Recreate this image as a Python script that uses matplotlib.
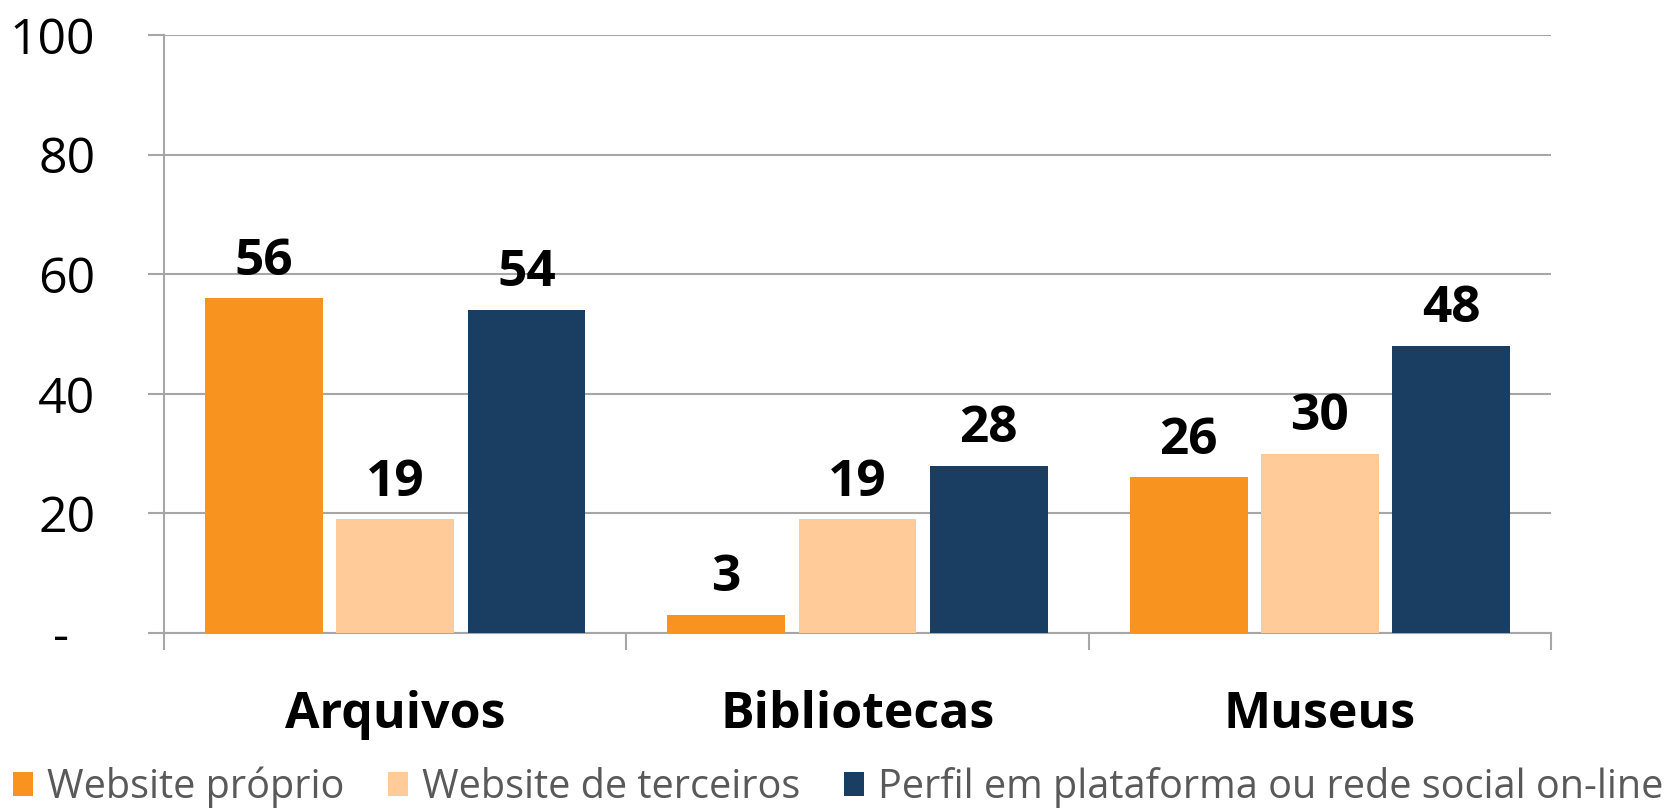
import numpy as np
import matplotlib.pyplot as plt
from matplotlib.patches import Patch

# data
categories = ['Arquivos', 'Bibliotecas', 'Museus']
series_names = ['Website próprio', 'Website de terceiros', 'Perfil em plataforma ou rede social on-line']
website_proprio = [56, 3, 26]
website_terceiros = [19, 19, 30]
perfil_rede = [54, 28, 48]
y_ticks = [0, 20, 40, 60, 80, 100]
y_tick_labels = ['-  ', '20', '40', '60', '80', '100']

colors = ['#F7931E', '#FECB99', '#1A3D62']
grid_color = '#A6A6A6'

plt.rcParams['font.family'] = ['Open Sans', 'DejaVu Sans']

fig = plt.figure(figsize=(16.77, 8.09), dpi=100)
ax = fig.add_axes([0.0978, 0.2176, 0.8271, 0.7391])

x = np.arange(len(categories))
bar_w = 0.255
step = 0.284
all_series = [website_proprio, website_terceiros, perfil_rede]

for i, vals in enumerate(all_series):
    pos = x + (i - 1) * step
    ax.bar(pos, vals, width=bar_w, color=colors[i], zorder=3)
    for px, v in zip(pos, vals):
        ax.annotate(f'{v:.0f}', xy=(px, v), xytext=(0, 17), textcoords='offset points',
                    ha='center', va='baseline', fontsize=37, fontweight='bold', color='black')

ax.set_xlim(-0.5, 2.5)
ax.set_ylim(0, 100)

# y axis
ax.set_yticks(y_ticks)
ax.set_yticklabels(y_tick_labels)
ax.tick_params(axis='y', length=11.5, width=1.5, color=grid_color, pad=38, labelsize=36, labelcolor='black')
ax.yaxis.grid(True, color=grid_color, linewidth=1.5, zorder=0)
ax.set_axisbelow(True)

# x axis: labels at centres, ticks at group boundaries
ax.set_xticks(x)
ax.set_xticklabels(categories, fontsize=36, fontweight='bold')
ax.set_xticks([-0.5, 0.5, 1.5, 2.5], minor=True)
ax.tick_params(axis='x', which='major', length=0, pad=41)
ax.tick_params(axis='x', which='minor', length=12, width=1.5, color=grid_color)

for s in ['top', 'right']:
    ax.spines[s].set_visible(False)
for s in ['left', 'bottom']:
    ax.spines[s].set_color(grid_color)
    ax.spines[s].set_linewidth(1.5)

handles = [Patch(facecolor=c, edgecolor='none') for c in colors]
leg = fig.legend(handles, series_names, loc='center', bbox_to_anchor=(0.5, 0.027), ncol=3,
                 frameon=False, fontsize=28.5, handlelength=0.5, handleheight=0.58,
                 handletextpad=0.36, columnspacing=1.1, borderpad=0, borderaxespad=0)
for t in leg.get_texts():
    t.set_color('#595959')

fig.savefig('out.png', dpi=100)
